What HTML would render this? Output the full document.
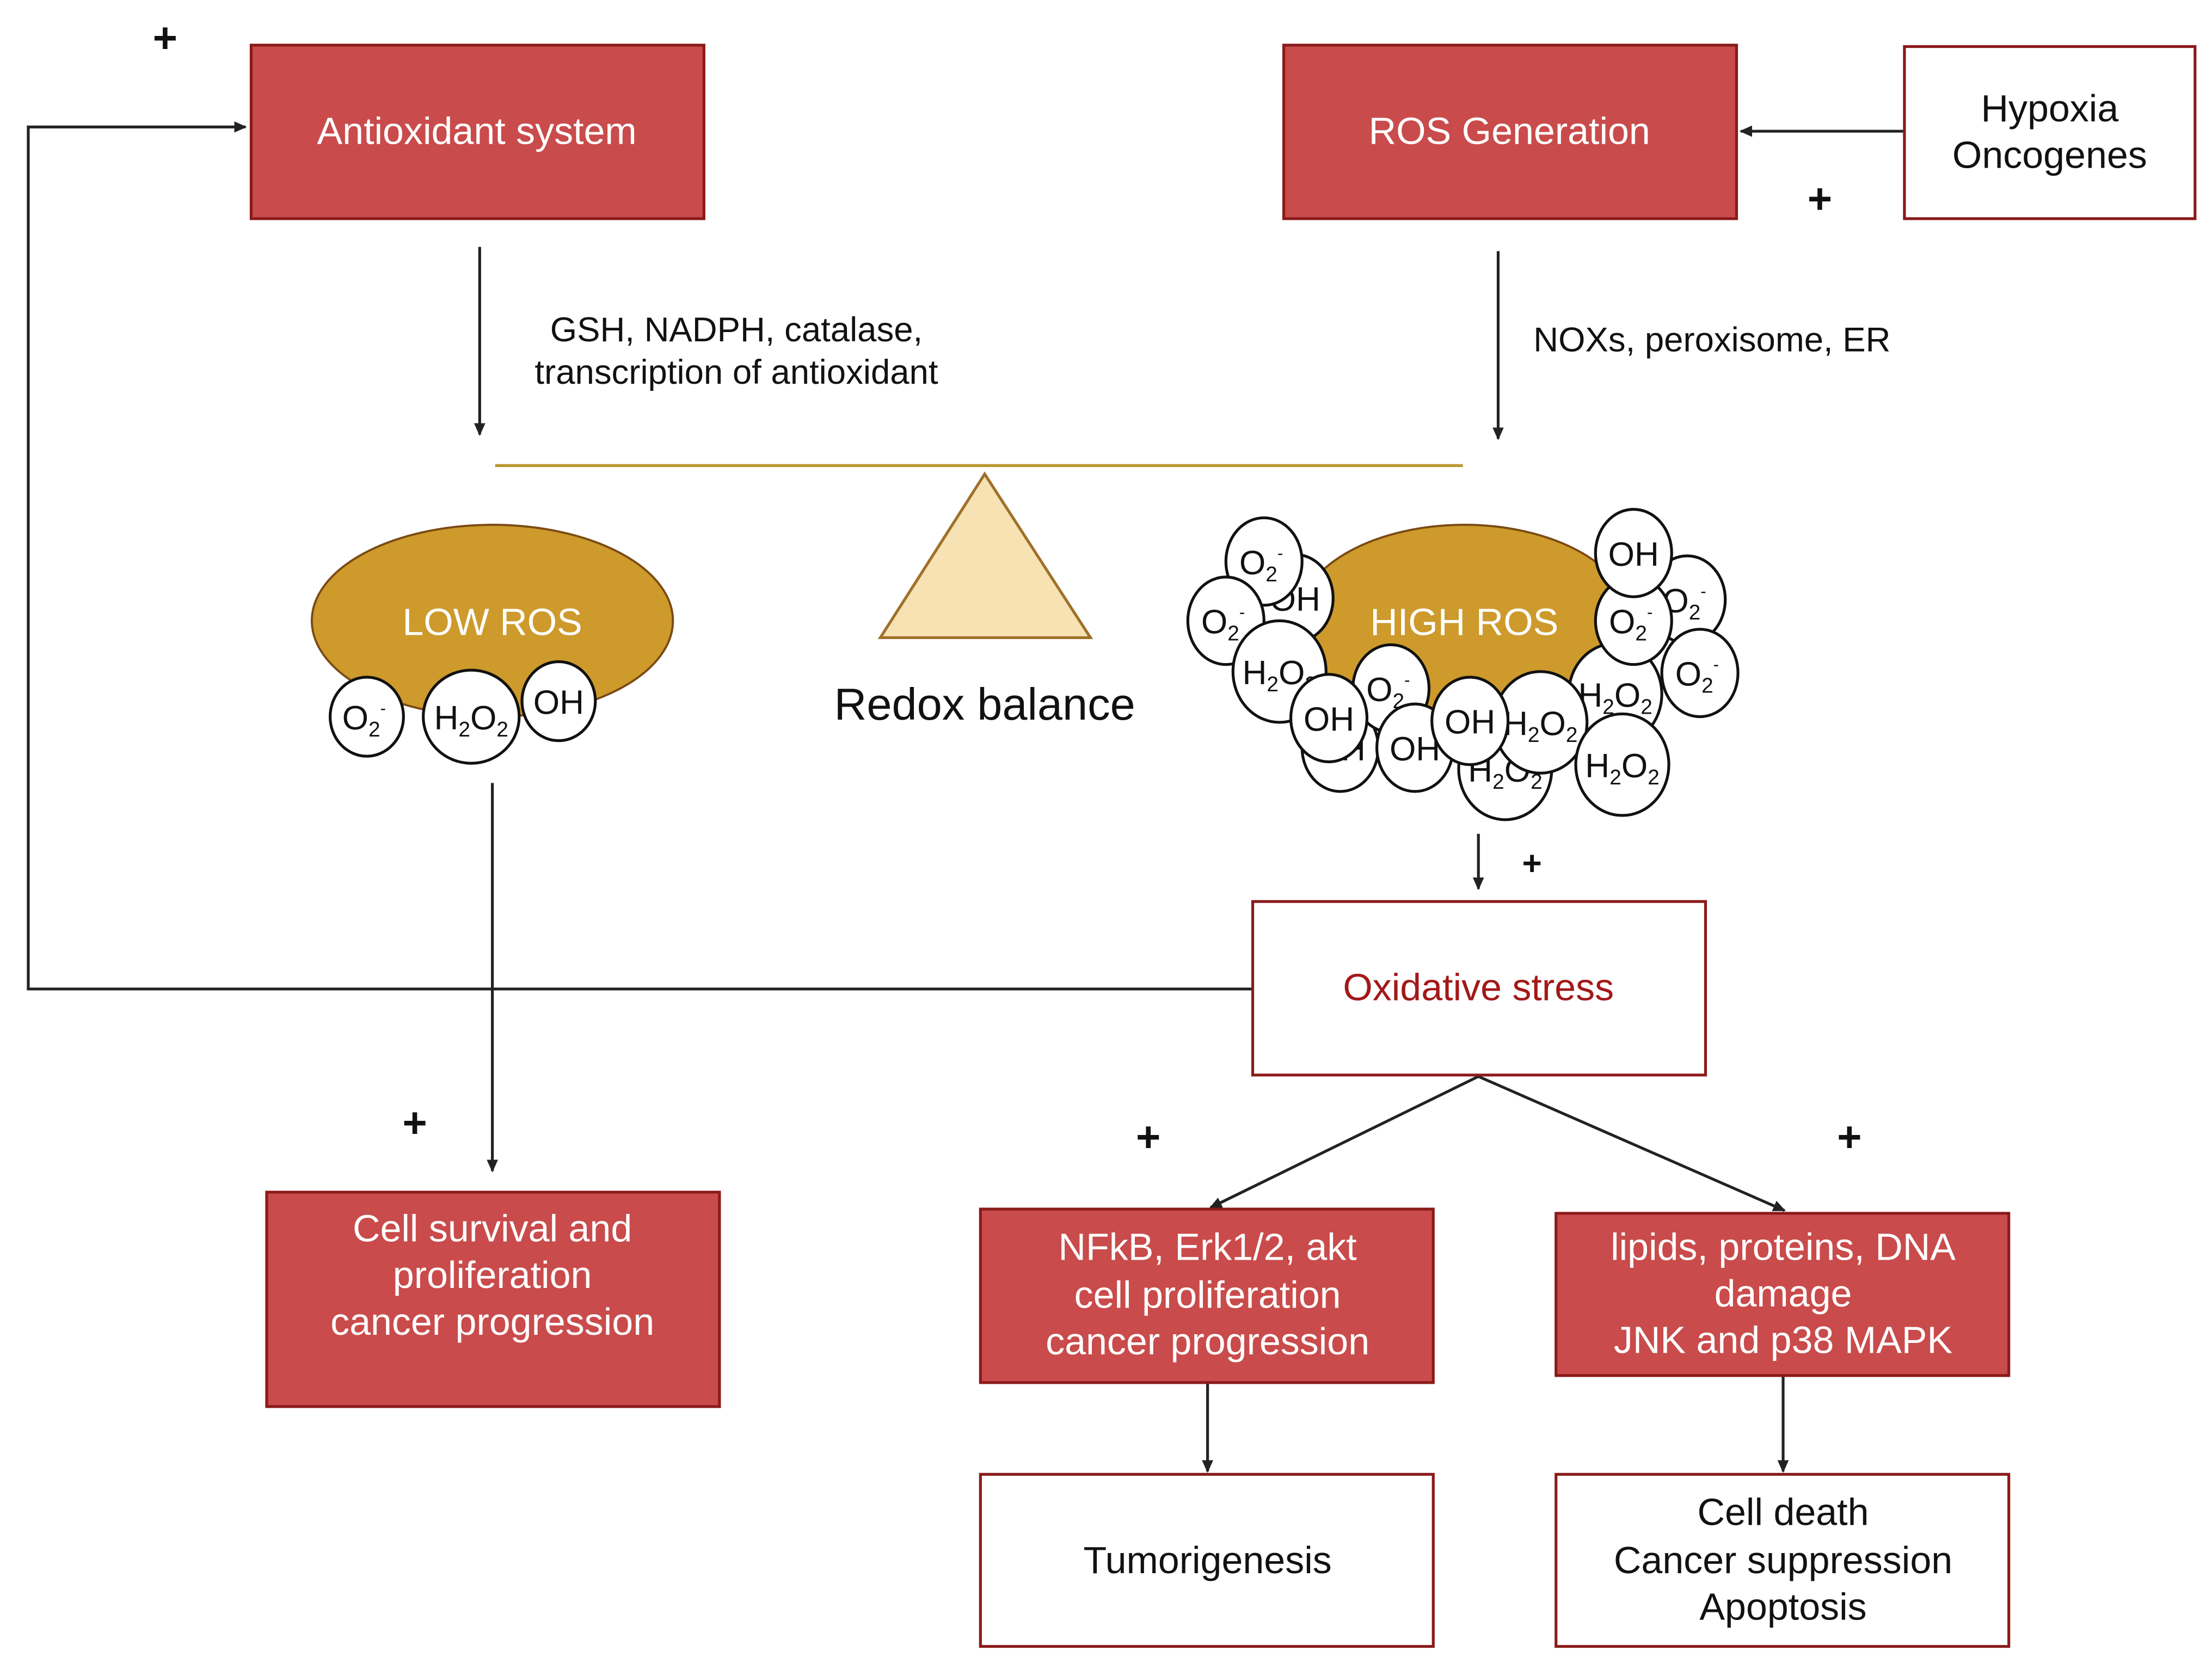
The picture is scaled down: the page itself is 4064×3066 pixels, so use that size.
<!DOCTYPE html>
<html><head><meta charset="utf-8"><style>html,body{margin:0;padding:0;background:#fff}svg{display:block}</style></head>
<body>
<svg xmlns="http://www.w3.org/2000/svg" width="4064" height="3066" viewBox="0 0 1568 1183" font-family="Liberation Sans, sans-serif">
<defs>
<marker id="a" markerWidth="10" markerHeight="10" refX="8" refY="5" orient="auto" markerUnits="userSpaceOnUse"><path d="M0,1 L9,5 L0,9 z" fill="#222"/></marker>
</defs>
<rect width="1568" height="1183" fill="#fff"/>
<g stroke="#222" stroke-width="2" fill="none">
<polyline points="888,701 20,701 20,90 174,90" marker-end="url(#a)"/>
<line x1="1350" y1="93" x2="1234" y2="93" marker-end="url(#a)"/>
<line x1="340" y1="175" x2="340" y2="308" marker-end="url(#a)"/>
<line x1="1062" y1="178" x2="1062" y2="311" marker-end="url(#a)"/>
<line x1="349" y1="555" x2="349" y2="830" marker-end="url(#a)"/>
<line x1="1048" y1="591" x2="1048" y2="630" marker-end="url(#a)"/>
<line x1="1048" y1="763" x2="858" y2="856" marker-end="url(#a)"/>
<line x1="1048" y1="763" x2="1265" y2="858" marker-end="url(#a)"/>
<line x1="856" y1="980" x2="856" y2="1043" marker-end="url(#a)"/>
<line x1="1264" y1="975" x2="1264" y2="1043" marker-end="url(#a)"/>
</g>
<g fill="#c94b4b" stroke="#8b1a1a" stroke-width="2">
<rect x="178" y="32" width="321" height="123"/>
<rect x="910" y="32" width="321" height="123"/>
<rect x="189" y="845" width="321" height="152"/>
<rect x="695" y="857" width="321" height="123"/>
<rect x="1103" y="860" width="321" height="115"/>
</g>
<g fill="#fff" stroke="#8b1a1a" stroke-width="2">
<rect x="1350" y="33" width="206" height="122"/>
<rect x="888" y="639" width="321" height="123"/>
<rect x="695" y="1045" width="321" height="122"/>
<rect x="1103" y="1045" width="321" height="122"/>
</g>
<g fill="#fff" font-size="27" text-anchor="middle">
<text x="338" y="102">Antioxidant system</text>
<text x="1070" y="102">ROS Generation</text>
<text x="349" y="880">Cell survival and</text>
<text x="349" y="913">proliferation</text>
<text x="349" y="946">cancer progression</text>
<text x="856" y="893">NFkB, Erk1/2, akt</text>
<text x="856" y="927">cell proliferation</text>
<text x="856" y="960">cancer progression</text>
<text x="1264" y="893">lipids, proteins, DNA</text>
<text x="1264" y="926">damage</text>
<text x="1264" y="959">JNK and p38 MAPK</text>
</g>
<g fill="#111" font-size="27" text-anchor="middle">
<text x="1453" y="86">Hypoxia</text>
<text x="1453" y="119">Oncogenes</text>
<text x="856" y="1115">Tumorigenesis</text>
<text x="1264" y="1081">Cell death</text>
<text x="1264" y="1115">Cancer suppression</text>
<text x="1264" y="1148">Apoptosis</text>
</g>
<text x="1048" y="709" fill="#a31818" font-size="27" text-anchor="middle">Oxidative stress</text>
<g fill="#111" font-size="24.5">
<text x="522" y="242" text-anchor="middle">GSH, NADPH, catalase,</text>
<text x="522" y="272" text-anchor="middle">transcription of antioxidant</text>
<text x="1087" y="249">NOXs, peroxisome, ER</text>
</g>
<text x="698" y="510" fill="#111" font-size="32" text-anchor="middle">Redox balance</text>
<g fill="#111" font-size="30" font-weight="bold" text-anchor="middle">
<text x="117" y="37">+</text><text x="1290" y="151">+</text><text x="294" y="806">+</text>
<text x="814" y="816">+</text><text x="1311" y="816">+</text><text x="1086" y="620" font-size="24">+</text>
</g>
<line x1="351" y1="330" x2="1037" y2="330" stroke="#b8962e" stroke-width="2"/>
<polygon points="698,336 624,452 773,452" fill="#f6e2b3" stroke="#a0702a" stroke-width="2"/>
<ellipse cx="349" cy="440" rx="128" ry="68" fill="#cd9a2b" stroke="#7a4a14" stroke-width="1.5"/>
<text x="349" y="450" fill="#fff" font-size="27" text-anchor="middle">LOW ROS</text>
<ellipse cx="1038" cy="440" rx="118" ry="68" fill="#cd9a2b" stroke="#7a4a14" stroke-width="1.5"/>
<g stroke="#111" stroke-width="2" fill="#fff" font-size="24" text-anchor="middle">
<g><ellipse cx="260" cy="508" rx="26" ry="28"/><text x="258" y="517" stroke="none" fill="#111">O<tspan font-size="15" dy="5">2</tspan><tspan font-size="12" dy="-16">-</tspan></text></g>
<g><ellipse cx="334" cy="508" rx="34" ry="33"/><text x="334" y="517" stroke="none" fill="#111">H<tspan font-size="15" dy="5">2</tspan><tspan dy="-5">O</tspan><tspan font-size="15" dy="5">2</tspan></text></g>
<g><ellipse cx="396" cy="497" rx="26" ry="28"/><text x="396" y="506" stroke="none" fill="#111">OH</text></g>
</g>
<g stroke="#111" stroke-width="2" fill="#fff" font-size="24" text-anchor="middle">
<g><ellipse cx="918" cy="424" rx="27" ry="31"/><text x="918" y="433" stroke="none" fill="#111">OH</text></g>
<g><ellipse cx="896" cy="398" rx="27" ry="31"/><text x="894" y="407" stroke="none" fill="#111">O<tspan font-size="15" dy="5">2</tspan><tspan font-size="12" dy="-16">-</tspan></text></g>
<g><ellipse cx="869" cy="440" rx="27" ry="31"/><text x="867" y="449" stroke="none" fill="#111">O<tspan font-size="15" dy="5">2</tspan><tspan font-size="12" dy="-16">-</tspan></text></g>
<g><ellipse cx="907" cy="476" rx="33" ry="36"/><text x="907" y="485" stroke="none" fill="#111">H<tspan font-size="15" dy="5">2</tspan><tspan dy="-5">O</tspan><tspan font-size="15" dy="5">2</tspan></text></g>
<g><ellipse cx="950" cy="530" rx="27" ry="31"/><text x="950" y="539" stroke="none" fill="#111">OH</text></g>
<g><ellipse cx="986" cy="488" rx="27" ry="31"/><text x="984" y="497" stroke="none" fill="#111">O<tspan font-size="15" dy="5">2</tspan><tspan font-size="12" dy="-16">-</tspan></text></g>
<g><ellipse cx="942" cy="509" rx="27" ry="31"/><text x="942" y="518" stroke="none" fill="#111">OH</text></g>
<g><ellipse cx="1003" cy="530" rx="27" ry="31"/><text x="1003" y="539" stroke="none" fill="#111">OH</text></g>
<g><ellipse cx="1145" cy="492" rx="33" ry="36"/><text x="1145" y="501" stroke="none" fill="#111">H<tspan font-size="15" dy="5">2</tspan><tspan dy="-5">O</tspan><tspan font-size="15" dy="5">2</tspan></text></g>
<g><ellipse cx="1067" cy="545" rx="33" ry="36"/><text x="1067" y="554" stroke="none" fill="#111">H<tspan font-size="15" dy="5">2</tspan><tspan dy="-5">O</tspan><tspan font-size="15" dy="5">2</tspan></text></g>
<g><ellipse cx="1092" cy="512" rx="33" ry="36"/><text x="1092" y="521" stroke="none" fill="#111">H<tspan font-size="15" dy="5">2</tspan><tspan dy="-5">O</tspan><tspan font-size="15" dy="5">2</tspan></text></g>
<g><ellipse cx="1042" cy="511" rx="27" ry="31"/><text x="1042" y="520" stroke="none" fill="#111">OH</text></g>
<g><ellipse cx="1150" cy="542" rx="33" ry="36"/><text x="1150" y="551" stroke="none" fill="#111">H<tspan font-size="15" dy="5">2</tspan><tspan dy="-5">O</tspan><tspan font-size="15" dy="5">2</tspan></text></g>
<g><ellipse cx="1196" cy="425" rx="27" ry="31"/><text x="1194" y="434" stroke="none" fill="#111">O<tspan font-size="15" dy="5">2</tspan><tspan font-size="12" dy="-16">-</tspan></text></g>
<g><ellipse cx="1158" cy="440" rx="27" ry="31"/><text x="1156" y="449" stroke="none" fill="#111">O<tspan font-size="15" dy="5">2</tspan><tspan font-size="12" dy="-16">-</tspan></text></g>
<g><ellipse cx="1158" cy="392" rx="27" ry="31"/><text x="1158" y="401" stroke="none" fill="#111">OH</text></g>
<g><ellipse cx="1205" cy="477" rx="27" ry="31"/><text x="1203" y="486" stroke="none" fill="#111">O<tspan font-size="15" dy="5">2</tspan><tspan font-size="12" dy="-16">-</tspan></text></g>
</g>
<text x="1038" y="450" fill="#fff" font-size="27" text-anchor="middle">HIGH ROS</text>
</svg>
</body></html>
